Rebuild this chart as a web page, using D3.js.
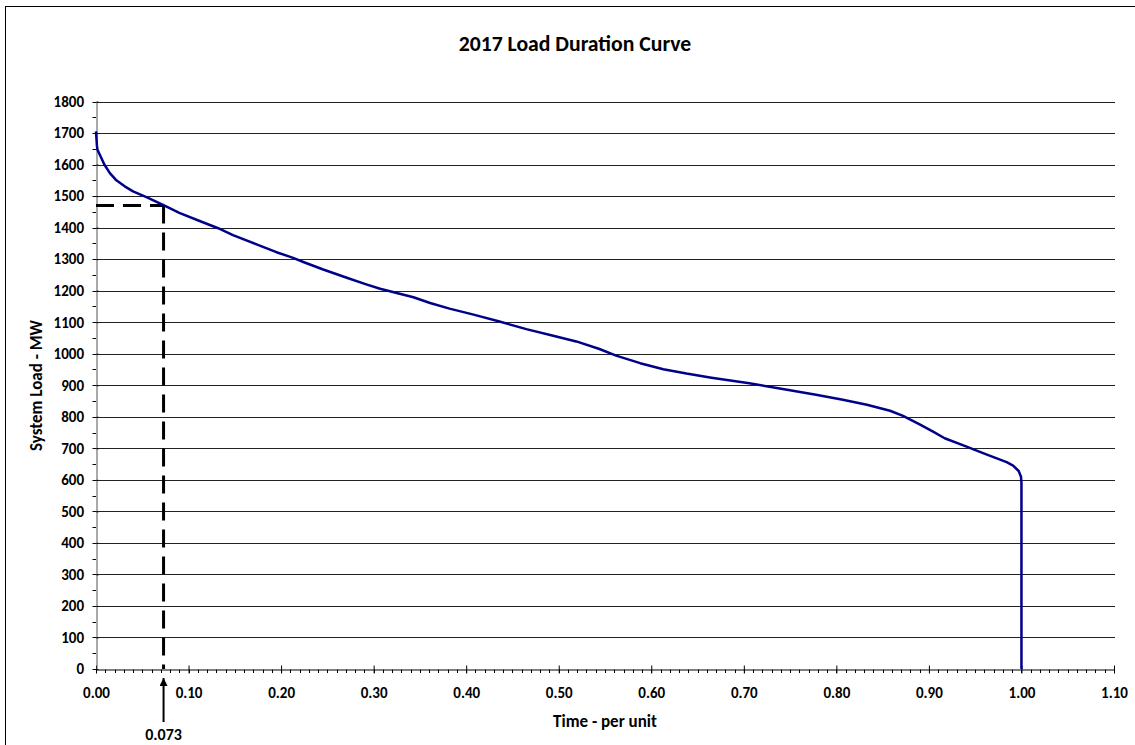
<!DOCTYPE html>
<html><head><meta charset="utf-8">
<script src="https://cdn.jsdelivr.net/npm/d3@7"></script>
<style>
body{margin:0;background:#fff;}
text{font-family:Carlito,Lato,"Open Sans",sans-serif;font-weight:bold;fill:#000;}
</style></head>
<body><svg id="c" width="1135" height="745"></svg>
<script>
const timePU = [0,0.001,0.0015,0.004,0.009,0.015,0.022,0.031,0.040,0.0545,0.073,0.090,0.112,0.132,0.148,0.1735,0.195,0.213,0.224,0.2455,0.271,0.292,0.307,0.326,0.343,0.361,0.382,0.408,0.436,0.465,0.494,0.519,0.544,0.562,0.588,0.613,0.638,0.665,0.706,0.742,0.778,0.807,0.833,0.858,0.872,0.890,0.905,0.917,0.940,0.962,0.984,0.991,0.997,0.9995,1.0,1.0];
const loadMW = [1705,1660,1648,1632,1600,1573,1550,1531,1515,1497,1471,1447,1421,1398,1376,1347,1322,1304,1291,1267,1241,1220,1206,1192,1179,1161,1143,1124,1102,1078,1057,1039,1015,994,970,951,937,924,906,888,870,854,838,819,803,776,752,732,706,681,656,645,628,610,590,0];
const xTicks = [0,0.1,0.2,0.3,0.4,0.5,0.6,0.7,0.8,0.9,1.0,1.1];
const yTicks = [0,100,200,300,400,500,600,700,800,900,1000,1100,1200,1300,1400,1500,1600,1700,1800];
const markerTime = [0.073];
const markerLoad = [1470];
const titleText = "2017 Load Duration Curve";
const xTitle = "Time - per unit";
const yTitle = "System Load - MW";

const svg = d3.select("#c");
const x = d3.scaleLinear().domain([0,1.1]).range([96,1114]);
const y = d3.scaleLinear().domain([0,1800]).range([669,101.5]);

svg.append("rect").attr("x",5.5).attr("y",6.5).attr("width",1140).attr("height",760)
  .attr("fill","none").attr("stroke","#000").attr("stroke-width",1);

svg.append("text").attr("x",575).attr("y",51).attr("text-anchor","middle")
  .style("font-size","21.7px").text(titleText);

// gridlines
svg.append("g").selectAll("line").data(yTicks.filter(d=>d>0)).join("line")
  .attr("x1",96).attr("x2",1115)
  .attr("y1",d=>Math.round(y(d))+0.5).attr("y2",d=>Math.round(y(d))+0.5)
  .attr("stroke","#222").attr("stroke-width",1);

// minor ticks
const xMinor = d3.range(0,111).map(i=>i/100);
svg.append("g").selectAll("line").data(xMinor).join("line")
  .attr("x1",d=>Math.round(x(d))+0.5).attr("x2",d=>Math.round(x(d))+0.5)
  .attr("y1",669.5).attr("y2",673).attr("stroke","#000");
const yMinor = d3.range(0,1801,50);
svg.append("g").selectAll("line").data(yMinor).join("line")
  .attr("x1",92.5).attr("x2",96)
  .attr("y1",d=>Math.round(y(d))+0.5).attr("y2",d=>Math.round(y(d))+0.5).attr("stroke","#000");

// axes
const xAxis = d3.axisBottom(x).tickValues(xTicks).tickFormat(d3.format(".2f")).tickSizeInner(4).tickSizeOuter(0);
const gx = svg.append("g").attr("transform","translate(0,669.5)").call(xAxis);
gx.selectAll(".tick line").attr("y1",-4).attr("stroke","#000");
gx.select(".domain").attr("stroke","#000");
gx.selectAll("text").attr("y",28.5).attr("dy",null).style("font-size","15px");

const yAxis = d3.axisLeft(y).tickValues(yTicks).tickFormat(d3.format("d")).tickSizeInner(4).tickSizeOuter(0);
const gy = svg.append("g").attr("transform","translate(96.5,0)").call(yAxis);
gy.selectAll(".tick line").attr("x2",2).attr("stroke","#000");
gy.select(".domain").attr("stroke","#555");
gy.selectAll("text").attr("x",-12.5).style("font-size","15px");
svg.selectAll("g").attr("font-family",null).attr("font-size",null);

// axis titles
svg.append("text").attr("x",605).attr("y",727).attr("text-anchor","middle")
  .style("font-size","17px").text(xTitle);
svg.append("text").attr("transform","translate(41.5,385.5) rotate(-90)").attr("text-anchor","middle")
  .style("font-size","17px").text(yTitle);

// dashed marker lines
const mx = x(markerTime[0]), my = y(markerLoad[0]);
svg.append("path").attr("d",`M${x(0)},${my}H${mx}`).attr("fill","none")
  .attr("stroke","#000").attr("stroke-width",3).attr("stroke-dasharray","18,9");
svg.append("path").attr("d",`M${mx},${my}V${y(0)}`).attr("fill","none")
  .attr("stroke","#000").attr("stroke-width",3).attr("stroke-dasharray","18,9");

// curve
const line = d3.line().x((d,i)=>x(timePU[i])).y((d,i)=>y(loadMW[i]));
svg.append("path").attr("d",line(loadMW)).attr("fill","none")
  .attr("stroke","#00008b").attr("stroke-width",2.5).attr("stroke-linejoin","round");

// arrow
svg.append("defs").append("marker").attr("id","ah").attr("viewBox","0 0 10 10")
  .attr("refX",10).attr("refY",5).attr("markerWidth",4).attr("markerHeight",4)
  .attr("orient","auto").attr("markerUnits","strokeWidth")
  .append("path").attr("d","M0,0L10,5L0,10z").attr("fill","#000");
svg.append("line").attr("x1",mx).attr("x2",mx).attr("y1",722).attr("y2",678)
  .attr("stroke","#000").attr("stroke-width",2).attr("marker-end","url(#ah)");
svg.append("text").attr("x",mx).attr("y",740).attr("text-anchor","middle")
  .style("font-size","16px").text(d3.format(".3f")(markerTime[0]));
</script></body></html>
